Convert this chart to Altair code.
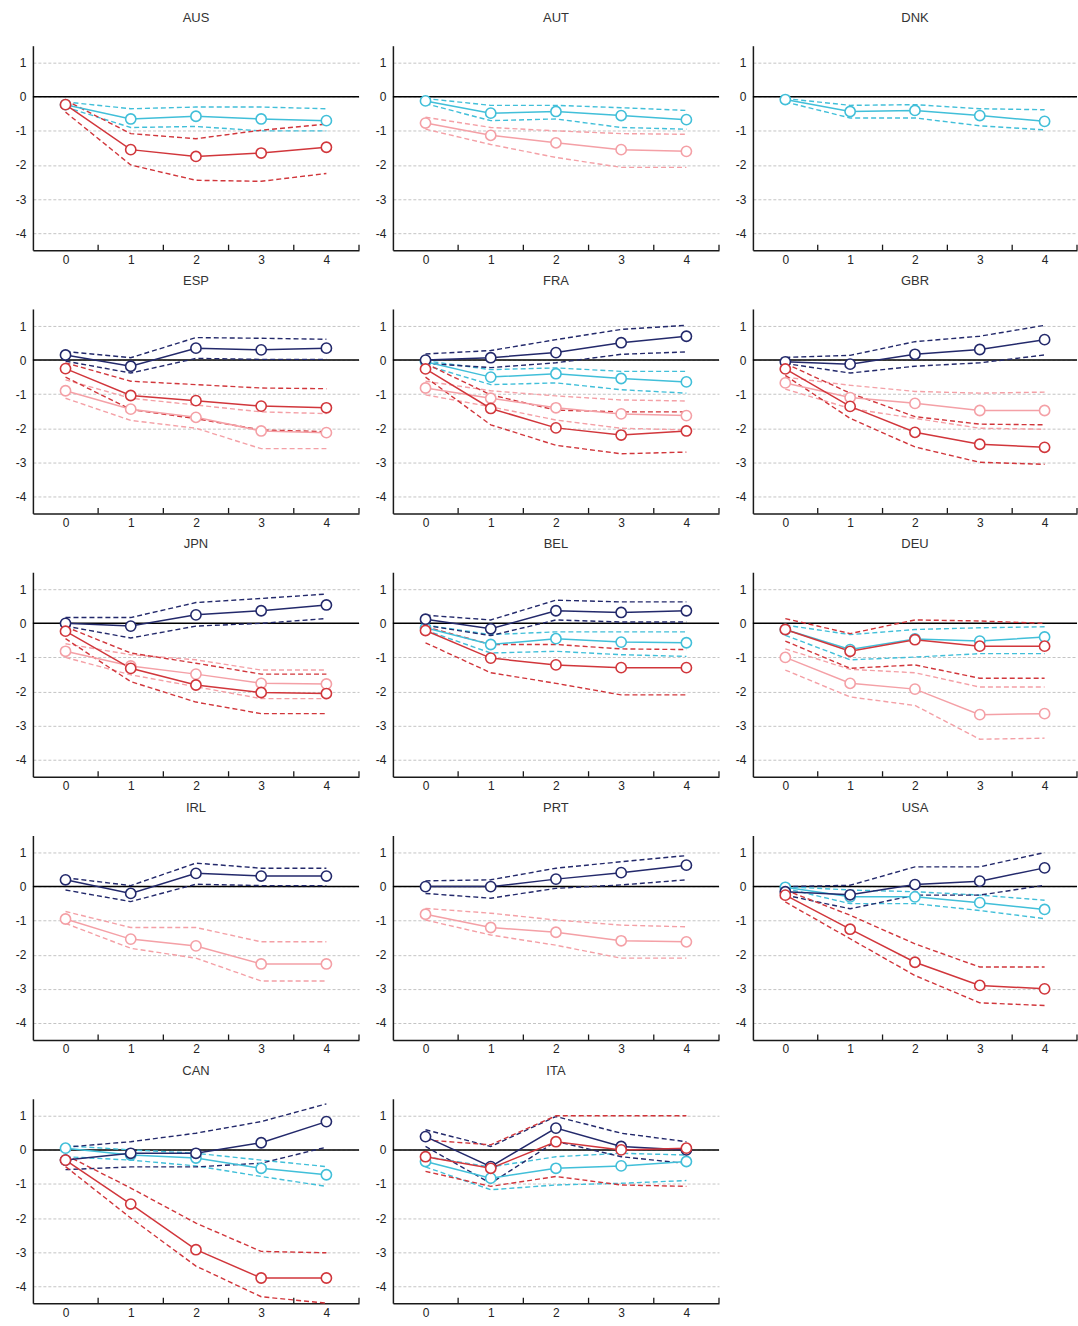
import altair as alt
import pandas as pd

# Horizon (x) and axis settings
HORIZON = [0, 1, 2, 3, 4]
X_DOMAIN = [-0.5, 4.5]
X_TICKS = [0.5, 1.5, 2.5, 3.5, 4.5]
Y_DOMAIN = [-4.5, 1.5]
Y_LABELS = [-4, -3, -2, -1, 0, 1]

SERIES = ["pink", "cyan", "navy", "red"]
COLORS = ["#f4a0a6", "#41bfd9", "#23296b", "#d1363b"]

# ---- point estimates with lower / upper bands ----
AUS_CYAN = [-0.23, -0.65, -0.57, -0.65, -0.70]
AUS_CYAN_LO = [-0.30, -0.90, -0.87, -1.00, -1.00]
AUS_CYAN_HI = [-0.15, -0.35, -0.30, -0.30, -0.35]
AUS_RED = [-0.23, -1.55, -1.75, -1.65, -1.48]
AUS_RED_LO = [-0.45, -2.00, -2.45, -2.48, -2.25]
AUS_RED_HI = [-0.10, -1.08, -1.23, -0.98, -0.80]

AUT_CYAN = [-0.12, -0.48, -0.43, -0.55, -0.67]
AUT_CYAN_LO = [-0.20, -0.70, -0.65, -0.90, -0.95]
AUT_CYAN_HI = [-0.05, -0.25, -0.25, -0.32, -0.40]
AUT_PINK = [-0.77, -1.13, -1.35, -1.55, -1.60]
AUT_PINK_LO = [-0.95, -1.40, -1.78, -2.07, -2.07]
AUT_PINK_HI = [-0.60, -0.90, -1.00, -1.08, -1.10]

DNK_CYAN = [-0.08, -0.43, -0.40, -0.55, -0.72]
DNK_CYAN_LO = [-0.15, -0.62, -0.62, -0.85, -0.97]
DNK_CYAN_HI = [-0.05, -0.25, -0.23, -0.35, -0.38]

ESP_NAVY = [0.15, -0.18, 0.35, 0.30, 0.35]
ESP_NAVY_LO = [-0.03, -0.38, 0.05, 0.02, 0.02]
ESP_NAVY_HI = [0.25, 0.07, 0.66, 0.64, 0.61]
ESP_PINK = [-0.90, -1.44, -1.68, -2.08, -2.13]
ESP_PINK_LO = [-1.12, -1.77, -2.00, -2.60, -2.60]
ESP_PINK_HI = [-0.58, -1.12, -1.32, -1.52, -1.57]
ESP_RED = [-0.25, -1.04, -1.19, -1.35, -1.40]
ESP_RED_LO = [-0.50, -1.45, -1.72, -2.05, -2.10]
ESP_RED_HI = [-0.08, -0.62, -0.72, -0.82, -0.84]

FRA_NAVY = [0.00, 0.07, 0.22, 0.51, 0.70]
FRA_NAVY_LO = [-0.10, -0.22, -0.08, 0.17, 0.24]
FRA_NAVY_HI = [0.18, 0.28, 0.60, 0.90, 1.02]
FRA_CYAN = [-0.05, -0.50, -0.40, -0.54, -0.64]
FRA_CYAN_LO = [-0.15, -0.72, -0.67, -0.87, -0.97]
FRA_CYAN_HI = [-0.02, -0.28, -0.23, -0.33, -0.33]
FRA_PINK = [-0.82, -1.12, -1.40, -1.58, -1.63]
FRA_PINK_LO = [-1.02, -1.37, -1.76, -2.00, -2.05]
FRA_PINK_HI = [-0.62, -0.90, -1.05, -1.17, -1.20]
FRA_RED = [-0.26, -1.42, -1.99, -2.20, -2.08]
FRA_RED_LO = [-0.50, -1.90, -2.50, -2.75, -2.70]
FRA_RED_HI = [-0.10, -1.02, -1.47, -1.52, -1.52]

GBR_NAVY = [-0.05, -0.12, 0.17, 0.31, 0.60]
GBR_NAVY_LO = [-0.10, -0.38, -0.18, -0.08, 0.15]
GBR_NAVY_HI = [0.08, 0.14, 0.54, 0.70, 1.02]
GBR_PINK = [-0.67, -1.10, -1.27, -1.48, -1.48]
GBR_PINK_LO = [-0.85, -1.42, -1.71, -2.00, -2.03]
GBR_PINK_HI = [-0.50, -0.74, -0.92, -0.97, -0.94]
GBR_RED = [-0.26, -1.36, -2.12, -2.47, -2.56]
GBR_RED_LO = [-0.45, -1.71, -2.55, -3.00, -3.06]
GBR_RED_HI = [-0.10, -0.97, -1.66, -1.88, -1.90]

JPN_NAVY = [0.00, -0.08, 0.25, 0.37, 0.54]
JPN_NAVY_LO = [-0.08, -0.43, -0.08, 0.00, 0.14]
JPN_NAVY_HI = [0.17, 0.17, 0.61, 0.73, 0.86]
JPN_PINK = [-0.82, -1.25, -1.49, -1.76, -1.78]
JPN_PINK_LO = [-1.00, -1.51, -1.86, -2.21, -2.21]
JPN_PINK_HI = [-0.60, -0.92, -1.07, -1.37, -1.37]
JPN_RED = [-0.23, -1.32, -1.81, -2.03, -2.06]
JPN_RED_LO = [-0.45, -1.71, -2.31, -2.65, -2.65]
JPN_RED_HI = [-0.10, -0.87, -1.17, -1.49, -1.49]

BEL_NAVY = [0.12, -0.16, 0.37, 0.32, 0.37]
BEL_NAVY_LO = [-0.06, -0.36, 0.10, 0.04, 0.04]
BEL_NAVY_HI = [0.24, 0.10, 0.68, 0.63, 0.63]
BEL_CYAN = [-0.13, -0.62, -0.45, -0.55, -0.57]
BEL_CYAN_LO = [-0.20, -0.87, -0.82, -0.92, -0.97]
BEL_CYAN_HI = [-0.05, -0.33, -0.25, -0.25, -0.25]
BEL_RED = [-0.21, -1.02, -1.22, -1.30, -1.30]
BEL_RED_LO = [-0.57, -1.45, -1.76, -2.10, -2.10]
BEL_RED_HI = [-0.10, -0.62, -0.62, -0.75, -0.77]

DEU_CYAN = [-0.18, -0.77, -0.46, -0.52, -0.40]
DEU_CYAN_LO = [-0.35, -1.07, -0.99, -0.89, -0.89]
DEU_CYAN_HI = [-0.05, -0.33, -0.18, -0.13, -0.10]
DEU_PINK = [-1.00, -1.76, -1.93, -2.68, -2.65]
DEU_PINK_LO = [-1.37, -2.16, -2.41, -3.40, -3.37]
DEU_PINK_HI = [-0.75, -1.35, -1.45, -1.87, -1.87]
DEU_RED = [-0.18, -0.82, -0.48, -0.67, -0.67]
DEU_RED_LO = [-0.52, -1.32, -1.22, -1.61, -1.61]
DEU_RED_HI = [0.14, -0.30, 0.10, 0.07, 0.00]

IRL_NAVY = [0.20, -0.20, 0.39, 0.31, 0.31]
IRL_NAVY_LO = [-0.10, -0.44, 0.07, 0.03, 0.03]
IRL_NAVY_HI = [0.26, 0.03, 0.69, 0.54, 0.54]
IRL_PINK = [-0.95, -1.54, -1.74, -2.27, -2.27]
IRL_PINK_LO = [-1.08, -1.81, -2.10, -2.77, -2.77]
IRL_PINK_HI = [-0.73, -1.20, -1.20, -1.62, -1.62]

PRT_NAVY = [0.00, 0.00, 0.22, 0.41, 0.63]
PRT_NAVY_LO = [-0.20, -0.34, -0.05, 0.05, 0.20]
PRT_NAVY_HI = [0.17, 0.20, 0.54, 0.73, 0.91]
PRT_PINK = [-0.81, -1.20, -1.34, -1.59, -1.62]
PRT_PINK_LO = [-0.98, -1.42, -1.72, -2.10, -2.10]
PRT_PINK_HI = [-0.64, -0.78, -0.98, -1.13, -1.18]

USA_NAVY = [-0.15, -0.24, 0.06, 0.16, 0.55]
USA_NAVY_LO = [-0.25, -0.65, -0.25, -0.25, 0.04]
USA_NAVY_HI = [0.00, 0.04, 0.58, 0.58, 1.00]
USA_CYAN = [-0.02, -0.30, -0.30, -0.47, -0.67]
USA_CYAN_LO = [-0.05, -0.50, -0.50, -0.70, -0.94]
USA_CYAN_HI = [0.00, -0.10, -0.15, -0.25, -0.40]
USA_RED = [-0.25, -1.25, -2.22, -2.90, -3.00]
USA_RED_LO = [-0.45, -1.53, -2.61, -3.41, -3.49]
USA_RED_HI = [-0.10, -0.84, -1.68, -2.36, -2.36]

CAN_NAVY = [-0.30, -0.10, -0.10, 0.21, 0.83]
CAN_NAVY_LO = [-0.58, -0.50, -0.50, -0.39, 0.08]
CAN_NAVY_HI = [0.08, 0.24, 0.49, 0.83, 1.35]
CAN_CYAN = [0.05, -0.15, -0.24, -0.54, -0.73]
CAN_CYAN_LO = [-0.20, -0.30, -0.47, -0.78, -1.07]
CAN_CYAN_HI = [0.12, 0.00, -0.10, -0.30, -0.49]
CAN_RED = [-0.30, -1.59, -2.93, -3.76, -3.76]
CAN_RED_LO = [-0.49, -2.00, -3.41, -4.31, -4.50]
CAN_RED_HI = [-0.15, -1.12, -2.15, -2.98, -3.02]

ITA_NAVY = [0.39, -0.49, 0.64, 0.10, 0.00]
ITA_NAVY_LO = [0.10, -0.98, 0.25, -0.20, -0.40]
ITA_NAVY_HI = [0.59, 0.10, 0.98, 0.49, 0.24]
ITA_CYAN = [-0.34, -0.83, -0.54, -0.47, -0.34]
ITA_CYAN_LO = [-0.50, -1.17, -1.03, -0.98, -0.90]
ITA_CYAN_HI = [-0.20, -0.50, -0.20, -0.10, -0.15]
ITA_RED = [-0.20, -0.54, 0.24, 0.00, 0.05]
ITA_RED_LO = [-0.63, -1.07, -0.78, -1.03, -1.07]
ITA_RED_HI = [0.29, 0.15, 1.00, 1.00, 1.00]

# Panel order and the series each panel shows (drawing order: pink, cyan, navy, red)
PANELS = [
    ("AUS", [("cyan", AUS_CYAN, AUS_CYAN_LO, AUS_CYAN_HI),
             ("red", AUS_RED, AUS_RED_LO, AUS_RED_HI)]),
    ("AUT", [("pink", AUT_PINK, AUT_PINK_LO, AUT_PINK_HI),
             ("cyan", AUT_CYAN, AUT_CYAN_LO, AUT_CYAN_HI)]),
    ("DNK", [("cyan", DNK_CYAN, DNK_CYAN_LO, DNK_CYAN_HI)]),
    ("ESP", [("pink", ESP_PINK, ESP_PINK_LO, ESP_PINK_HI),
             ("navy", ESP_NAVY, ESP_NAVY_LO, ESP_NAVY_HI),
             ("red", ESP_RED, ESP_RED_LO, ESP_RED_HI)]),
    ("FRA", [("pink", FRA_PINK, FRA_PINK_LO, FRA_PINK_HI),
             ("cyan", FRA_CYAN, FRA_CYAN_LO, FRA_CYAN_HI),
             ("navy", FRA_NAVY, FRA_NAVY_LO, FRA_NAVY_HI),
             ("red", FRA_RED, FRA_RED_LO, FRA_RED_HI)]),
    ("GBR", [("pink", GBR_PINK, GBR_PINK_LO, GBR_PINK_HI),
             ("navy", GBR_NAVY, GBR_NAVY_LO, GBR_NAVY_HI),
             ("red", GBR_RED, GBR_RED_LO, GBR_RED_HI)]),
    ("JPN", [("pink", JPN_PINK, JPN_PINK_LO, JPN_PINK_HI),
             ("navy", JPN_NAVY, JPN_NAVY_LO, JPN_NAVY_HI),
             ("red", JPN_RED, JPN_RED_LO, JPN_RED_HI)]),
    ("BEL", [("cyan", BEL_CYAN, BEL_CYAN_LO, BEL_CYAN_HI),
             ("navy", BEL_NAVY, BEL_NAVY_LO, BEL_NAVY_HI),
             ("red", BEL_RED, BEL_RED_LO, BEL_RED_HI)]),
    ("DEU", [("pink", DEU_PINK, DEU_PINK_LO, DEU_PINK_HI),
             ("cyan", DEU_CYAN, DEU_CYAN_LO, DEU_CYAN_HI),
             ("red", DEU_RED, DEU_RED_LO, DEU_RED_HI)]),
    ("IRL", [("pink", IRL_PINK, IRL_PINK_LO, IRL_PINK_HI),
             ("navy", IRL_NAVY, IRL_NAVY_LO, IRL_NAVY_HI)]),
    ("PRT", [("pink", PRT_PINK, PRT_PINK_LO, PRT_PINK_HI),
             ("navy", PRT_NAVY, PRT_NAVY_LO, PRT_NAVY_HI)]),
    ("USA", [("cyan", USA_CYAN, USA_CYAN_LO, USA_CYAN_HI),
             ("navy", USA_NAVY, USA_NAVY_LO, USA_NAVY_HI),
             ("red", USA_RED, USA_RED_LO, USA_RED_HI)]),
    ("CAN", [("cyan", CAN_CYAN, CAN_CYAN_LO, CAN_CYAN_HI),
             ("navy", CAN_NAVY, CAN_NAVY_LO, CAN_NAVY_HI),
             ("red", CAN_RED, CAN_RED_LO, CAN_RED_HI)]),
    ("ITA", [("cyan", ITA_CYAN, ITA_CYAN_LO, ITA_CYAN_HI),
             ("navy", ITA_NAVY, ITA_NAVY_LO, ITA_NAVY_HI),
             ("red", ITA_RED, ITA_RED_LO, ITA_RED_HI)]),
]

FONT = "Liberation Sans"
COL_WIDTHS = [327, 327, 325]
PANEL_H = 205
AXIS_COLOR = "#1a1a1a"

rows = []
for code, series in PANELS:
    for name, est, lo, hi in series:
        for kind, vals in (("est", est), ("lo", lo), ("hi", hi)):
            for h, v in zip(HORIZON, vals):
                rows.append({"country": code, "series": name, "kind": kind, "h": h, "v": v})
df = pd.DataFrame(rows)

zero_df = pd.DataFrame({"v": [0.0]})
tick_df = pd.DataFrame({"h": X_TICKS, "v": [Y_DOMAIN[0]] * len(X_TICKS),
                        "v2": [Y_DOMAIN[0] + 0.16] * len(X_TICKS)})

x_enc = alt.X(
    "h:Q",
    scale=alt.Scale(domain=X_DOMAIN, nice=False, zero=False),
    axis=alt.Axis(values=HORIZON, title=None, ticks=False, grid=False,
                  domainColor=AXIS_COLOR, domainWidth=1.5,
                  labelExpr="'' + datum.value",
                  labelFont=FONT, labelFontSize=12, labelColor="#222",
                  labelPadding=4),
)
y_enc = alt.Y(
    "v:Q",
    scale=alt.Scale(domain=Y_DOMAIN, nice=False, zero=False),
    axis=alt.Axis(values=Y_LABELS, title=None, ticks=False, grid=True,
                  gridColor="#c4c4c4", gridDash=[3, 2], gridWidth=1,
                  domainColor=AXIS_COLOR, domainWidth=1.5,
                  labelExpr="'' + datum.value",
                  labelFont=FONT, labelFontSize=12, labelColor="#222",
                  labelPadding=7),
)
color_scale = alt.Scale(domain=SERIES, range=COLORS)


def panel(code, width):
    base = alt.Chart(df[df.country == code])
    est = base.transform_filter(alt.datum.kind == "est")
    band = base.transform_filter(alt.datum.kind != "est")

    zero = alt.Chart(zero_df).mark_rule(color="black", strokeWidth=1.5).encode(y=y_enc)
    ticks = alt.Chart(tick_df).mark_rule(color=AXIS_COLOR, strokeWidth=1.3).encode(
        x=x_enc, y=y_enc, y2="v2:Q")
    bands = band.mark_line(strokeWidth=1.4, strokeDash=[5, 3]).encode(
        x=x_enc, y=y_enc,
        color=alt.Color("series:N", scale=color_scale, legend=None),
        detail="kind:N")
    lines = est.mark_line(strokeWidth=1.5).encode(
        x=x_enc, y=y_enc,
        color=alt.Color("series:N", scale=color_scale, legend=None))
    points = est.mark_point(shape="circle", size=105, strokeWidth=1.6,
                            fill="white", fillOpacity=1, opacity=1).encode(
        x=x_enc, y=y_enc,
        stroke=alt.Stroke("series:N", scale=color_scale, legend=None))

    return alt.layer(zero, ticks, bands, lines, points).properties(
        width=width, height=PANEL_H,
        title=alt.TitleParams(code, font=FONT, fontSize=13, fontWeight="normal",
                              color="#333", offset=21),
    )


panels = [panel(code, COL_WIDTHS[i % 3]) for i, (code, _) in enumerate(PANELS)]
grid_rows = [alt.hconcat(*panels[i:i + 3], spacing=15) for i in range(0, len(panels), 3)]

chart = alt.vconcat(*grid_rows, spacing=10).properties(
    padding={"left": 15, "top": 10, "right": 0, "bottom": 0}
).configure_view(stroke=None)

chart.save("out.html", embed_options={"renderer": "svg", "actions": False})
